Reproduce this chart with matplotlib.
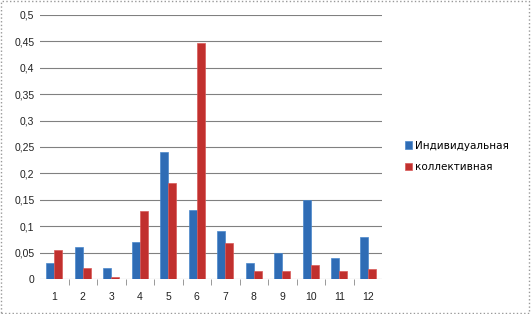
import numpy as np
import matplotlib.pyplot as plt
from matplotlib.patches import Rectangle

# данные с диаграммы
categories = [str(i) for i in range(1, 13)]
individual = [0.03, 0.06, 0.02, 0.07, 0.24, 0.13, 0.09, 0.03, 0.05, 0.15, 0.04, 0.08]
collective = [0.054, 0.021, 0.003, 0.128, 0.182, 0.447, 0.068, 0.016, 0.016, 0.026, 0.015, 0.018]
yticks = [0, 0.05, 0.1, 0.15, 0.2, 0.25, 0.3, 0.35, 0.4, 0.45, 0.5]
ytick_labels = ['0', '0,05', '0,1', '0,15', '0,2', '0,25', '0,3', '0,35', '0,4', '0,45', '0,5']

fig = plt.figure(figsize=(5.31, 3.14), dpi=100)
ax = fig.add_axes([40 / 531, 35 / 314, 342 / 531, 264 / 314])

x = np.arange(len(categories))
w = 0.28
ax.bar(x - w / 2, individual, w, color='#2f6cb5', edgecolor='#4a88cc', linewidth=0.5,
       label='Индивидуальная', zorder=3)
ax.bar(x + w / 2, collective, w, color='#c1302e', edgecolor='#d85a58', linewidth=0.5,
       label='коллективная', zorder=3)

ax.set_xlim(-0.5, len(categories) - 0.5)
ax.set_ylim(0, 0.5)
ax.set_yticks(yticks)
ax.set_yticklabels(ytick_labels, fontsize=7.5, color='#222222', family='Liberation Sans')
ax.set_xticks(x)
ax.set_xticklabels(categories, fontsize=7.5, color='#222222', family='Liberation Sans')
ax.set_xticks(np.arange(0.5, len(categories) - 1, 1), minor=True)
ax.tick_params(axis='x', which='major', length=0, pad=9)
ax.tick_params(axis='x', which='minor', length=4, color='#888888', direction='out')
ax.tick_params(axis='y', length=0, pad=4)
ax.yaxis.grid(True, color='#808080', linewidth=0.8, zorder=0)
for s in ax.spines.values():
    s.set_visible(False)

ax.legend(loc='center left', bbox_to_anchor=(1.04, 0.465), frameon=False, fontsize=7.5,
          handlelength=0.7, handleheight=0.7, handletextpad=0.3, labelspacing=1.1)

# рамка вокруг картинки
fig.patches.append(Rectangle((0.002, 0.003), 0.995, 0.994, transform=fig.transFigure,
                             fill=False, edgecolor='#999999', linewidth=1, linestyle=':'))

fig.savefig('out.png', dpi=100)
